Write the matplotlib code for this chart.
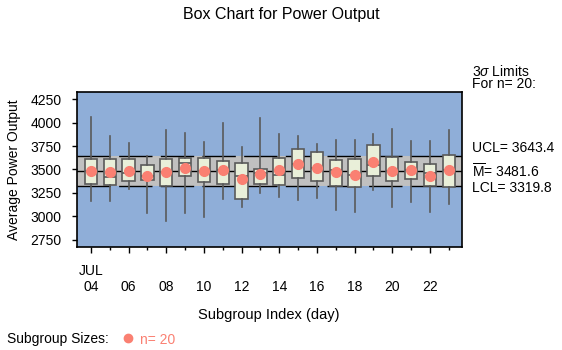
import matplotlib
matplotlib.use('Agg')
import matplotlib.pyplot as plt
from matplotlib.lines import Line2D

# ---- data ----
days = list(range(4, 24))
whis_lo = [3166, 3166, 3294, 3038, 2952, 3038, 2995, 3187, 3102, 3251,
           3209, 3177, 3198, 3070, 3048, 3283, 3102, 3155, 3048, 3134]
q1 = [3341, 3330, 3373, 3384, 3320, 3427, 3362, 3341, 3181, 3341,
      3330, 3405, 3373, 3320, 3309, 3427, 3373, 3394, 3320, 3309]
medians = [3483, 3416, 3458, 3430, 3469, 3572, 3480, 3490, 3433, 3460,
           3437, 3558, 3515, 3490, 3437, 3544, 3480, 3490, 3458, 3490]
q3 = [3608, 3608, 3608, 3544, 3608, 3619, 3619, 3587, 3565, 3501,
      3619, 3715, 3683, 3597, 3608, 3758, 3630, 3576, 3555, 3651]
whis_hi = [4060, 3857, 3779, 3646, 3921, 3889, 3793, 3996, 3740, 4049,
           3875, 3854, 3768, 3811, 3811, 3875, 3929, 3800, 3800, 3918]
means = [3483, 3469, 3483, 3430, 3469, 3512, 3486, 3490, 3394, 3448,
         3490, 3558, 3515, 3469, 3437, 3583, 3480, 3490, 3426, 3490]

ucl = 3643.4
center = 3481.6
lcl = 3319.8

yticks = [2750, 3000, 3250, 3500, 3750, 4000, 4250]
xlabels = ['JUL\n04', '\n06', '\n08', '\n10', '\n12', '\n14', '\n16', '\n18', '\n20', '\n22']

# ---- style ----
plt.rcParams['font.family'] = 'Liberation Sans'
plt.rcParams['font.size'] = 10
plt.rcParams['mathtext.fontset'] = 'custom'
plt.rcParams['mathtext.rm'] = 'Liberation Sans'
plt.rcParams['mathtext.it'] = 'Liberation Sans:italic'

bg = '#8faed8'
band = '#c0c0c0'
boxfill = '#e9efd9'
edge = '#5a5a5a'
salmon = '#fa8072'

W, H = 562, 350
fig = plt.figure(figsize=(W / 100, H / 100), dpi=100)
ax = fig.add_axes([77 / W, 1 - 247 / H, (461.7 - 77) / W, 155 / H])
ax.set_facecolor(bg)

ax.axhspan(lcl, ucl, color=band, lw=0, zorder=1)
ax.axhline(ucl, color='k', lw=1, ls=(0, (24, 6)), zorder=2)
ax.axhline(lcl, color='k', lw=1, ls=(0, (24, 6)), zorder=2)
ax.axhline(center, color='k', lw=1, zorder=2)

stats = []
for i in range(len(days)):
    stats.append(dict(med=medians[i], q1=q1[i], q3=q3[i], whislo=whis_lo[i],
                      whishi=whis_hi[i], mean=means[i], fliers=[]))

ax.bxp(stats, positions=days, widths=0.65, patch_artist=True,
       showcaps=False, showmeans=True, showfliers=False, manage_ticks=False,
       boxprops=dict(facecolor=boxfill, edgecolor=edge, lw=1.2),
       whiskerprops=dict(color=edge, lw=1.2),
       medianprops=dict(color=edge, lw=1.2),
       meanprops=dict(marker='o', markerfacecolor=salmon, markeredgecolor=salmon, markersize=7),
       zorder=3)

ax.set_xlim(3.26, 23.69)
ax.set_ylim(2671, 4327)
ax.set_yticks(yticks)
ax.set_xticks(range(4, 24, 2))
ax.set_xticklabels(xlabels)
ax.set_xticks(range(5, 24, 2), minor=True)
ax.tick_params(axis='x', which='major', length=4.3, width=1, pad=8)
ax.tick_params(axis='x', which='minor', length=2.5, width=1)
ax.tick_params(axis='y', length=3.6, width=1, pad=7.7)
for s in ax.spines.values():
    s.set_linewidth(1.2)

# ---- texts ----
fig.text(0.5, 1 - 19 / H, 'Box Chart for Power Output', ha='center', va='baseline', fontsize=11.5)
fig.text(14.5 / W, 1 - 169.5 / H, 'Average Power Output', rotation=90, ha='center', va='center')
fig.text(269 / W, 1 - 319 / H, 'Subgroup Index (day)', ha='center', va='baseline', fontsize=10.5)

fig.text(472 / W, 1 - 75.5 / H, r'3$\sigma$ Limits', va='baseline')
fig.text(472 / W, 1 - 88 / H, 'For n= 20:', va='baseline')
fig.text(472 / W, 1 - 151.5 / H, 'UCL= 3643.4', va='baseline')
fig.text(472 / W, 1 - 178 / H, r'$\overline{\mathrm{M}}$= 3481.6', va='baseline')
fig.text(472 / W, 1 - 191.5 / H, 'LCL= 3319.8', va='baseline')

fig.text(7 / W, 1 - 343.5 / H, 'Subgroup Sizes:', va='baseline')
fig.add_artist(Line2D([128 / W], [1 - 338 / H], marker='o', color=salmon,
                      markersize=6, transform=fig.transFigure))
fig.text(140 / W, 1 - 343.5 / H, 'n= 20', color=salmon, va='baseline')

fig.savefig('out.png', dpi=100)
